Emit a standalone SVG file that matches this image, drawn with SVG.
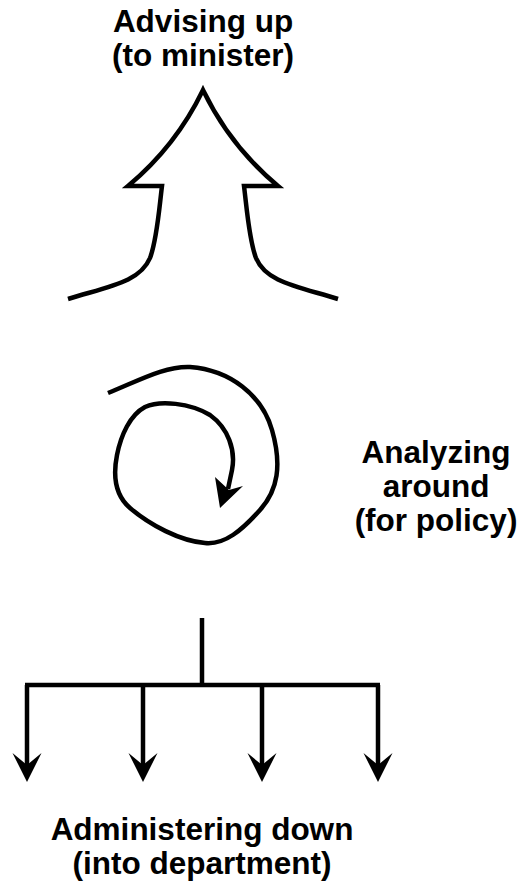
<svg xmlns="http://www.w3.org/2000/svg" width="520" height="892" viewBox="0 0 520 892">
  <style>
    .lbl { font-family: "Liberation Sans", Arial, sans-serif; font-weight: bold; font-size: 31.5px; fill: #000; text-anchor: middle; }
    .ln { fill: none; stroke: #000; stroke-width: 4.5; }
    .head { fill: #000; stroke: none; }
  </style>
  <defs>
    <polygon id="down-head" points="0,0 -14.5,-29 0,-17 14.5,-29"/>
  </defs>
  <rect width="520" height="892" fill="#fff"/>

  <g id="advising">
    <text class="lbl" x="203" y="32">Advising up</text>
    <text class="lbl" x="203" y="66">(to minister)</text>
    <path class="ln" stroke-linejoin="miter" stroke-miterlimit="10"
      d="M68,299 C110,286 140,282 150,258 C157,240 159,210 162,186 L128,186 Q176,146 203,90 Q230,146 278,186 L244,186 C247,210 249,240 256,258 C266,282 296,286 338,299"/>
  </g>

  <g id="analyzing">
    <path class="ln" stroke-linecap="butt"
      d="M108,393 C140,380 165,366 190,367 C230,370 262,395 272,430 C282,465 278,490 260,510 C242,530 225,545 205,543 C180,541 150,525 130,508 C115,495 113,475 117,455 C121,435 130,415 145,407 C160,400 190,403 210,415 C228,428 236,450 232,470 L228,489"/>
    <polygon class="head" points="220,508 215,477 229,490 243,486"/>
    <text class="lbl" x="436" y="463">Analyzing</text>
    <text class="lbl" x="436" y="497">around</text>
    <text class="lbl" x="436" y="531">(for policy)</text>
  </g>

  <g id="administering">
    <text class="lbl" x="202" y="840">Administering down</text>
    <text class="lbl" x="202" y="874">(into department)</text>
  </g>

  <g id="connectors">
    <line class="ln" x1="202" y1="618" x2="202" y2="685"/>
    <line class="ln" x1="25" y1="685" x2="380" y2="685"/>
    <line class="ln" x1="27" y1="685" x2="27" y2="768"/>
    <line class="ln" x1="143" y1="685" x2="143" y2="768"/>
    <line class="ln" x1="262" y1="685" x2="262" y2="768"/>
    <line class="ln" x1="378" y1="685" x2="378" y2="768"/>
    <use href="#down-head" class="head" x="27" y="782"/>
    <use href="#down-head" class="head" x="143" y="782"/>
    <use href="#down-head" class="head" x="262" y="782"/>
    <use href="#down-head" class="head" x="378" y="782"/>
  </g>
</svg>
